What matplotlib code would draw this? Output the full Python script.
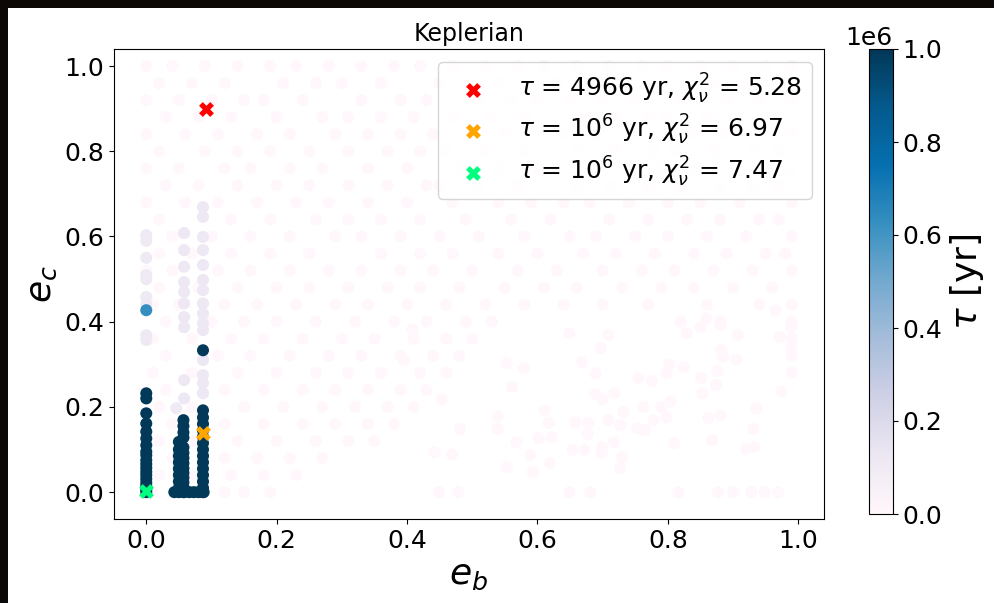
"""Lifetime map of the (e_b, e_c) plane, Keplerian fit."""

import matplotlib

matplotlib.use("Agg")
import matplotlib.pyplot as plt
import numpy as np
from matplotlib.patches import Rectangle

# --- stable / long-lived solutions (tau in yr) -----------------------------
col1_ec = [0.232, 0.220, 0.185, 0.161, 0.142, 0.126, 0.110, 0.095, 0.087, 0.075,
           0.066, 0.057, 0.048, 0.040, 0.031, 0.022, 0.014, 0.006, 0.000]
col2_ec = [0.169, 0.155, 0.140, 0.128, 0.105, 0.092, 0.080, 0.068, 0.056, 0.045,
           0.034, 0.023, 0.012, 0.000]
col2b_ec = [0.118, 0.100, 0.085, 0.070, 0.055, 0.040, 0.025, 0.010]
col3_ec = [0.333, 0.192, 0.175, 0.160, 0.145, 0.130, 0.115, 0.100, 0.085, 0.070,
           0.055, 0.040, 0.025, 0.010, 0.000]
floor_eb = [0.043, 0.050, 0.058, 0.066, 0.073, 0.080, 0.088]

# weakly stable (short tau) points in the same columns
lav1_ec = [0.603, 0.590, 0.550, 0.509, 0.500, 0.458, 0.440, 0.368, 0.357]
lav2_ec = [0.608, 0.568, 0.529, 0.493, 0.470, 0.443, 0.411, 0.387, 0.263, 0.220]
lav3_ec = [0.669, 0.646, 0.599, 0.568, 0.533, 0.498, 0.474, 0.443, 0.419, 0.397,
           0.380, 0.310, 0.275, 0.256, 0.232]

# single intermediate point
mid_eb, mid_ec, mid_tau = 0.0, 0.427, 6.3e5

# --- background: unstable solutions (tau ~ 0) ------------------------------
bg_rows = [
    (1.00, [0.00, 0.04, 0.09, 0.14, 0.19, 0.23, 0.28, 0.33, 0.38, 0.42, 0.47, 0.52,
            0.57, 0.61, 0.66, 0.71, 0.76, 0.80, 0.85, 0.90, 0.95, 0.99]),
    (0.96, [0.02, 0.07, 0.12, 0.21, 0.26, 0.30, 0.36, 0.45, 0.49, 0.54, 0.63, 0.68,
            0.73, 0.78, 0.87, 0.92, 0.97]),
    (0.92, [0.00, 0.05, 0.10, 0.15, 0.18, 0.24, 0.33, 0.39, 0.43, 0.51, 0.56, 0.60,
            0.65, 0.70, 0.75, 0.82, 0.89, 0.94, 0.99]),
    (0.88, [0.03, 0.08, 0.13, 0.20, 0.27, 0.31, 0.36, 0.41, 0.47, 0.53, 0.58, 0.67,
            0.72, 0.77, 0.80, 0.86, 0.91, 0.96]),
    (0.84, [0.00, 0.06, 0.11, 0.17, 0.22, 0.29, 0.34, 0.39, 0.44, 0.50, 0.55, 0.61,
            0.64, 0.69, 0.75, 0.84, 0.89, 0.99]),
    (0.80, [0.02, 0.09, 0.14, 0.19, 0.25, 0.31, 0.37, 0.42, 0.46, 0.52, 0.58, 0.66,
            0.72, 0.78, 0.81, 0.87, 0.93, 0.97]),
    (0.76, [0.00, 0.05, 0.12, 0.16, 0.22, 0.27, 0.34, 0.40, 0.48, 0.54, 0.60, 0.63,
            0.69, 0.74, 0.79, 0.84, 0.90, 0.95, 0.99]),
    (0.72, [0.03, 0.08, 0.14, 0.20, 0.25, 0.31, 0.37, 0.43, 0.45, 0.51, 0.57, 0.66,
            0.71, 0.77, 0.82, 0.88, 0.93, 0.97]),
    (0.68, [0.00, 0.06, 0.11, 0.17, 0.23, 0.28, 0.34, 0.40, 0.47, 0.54, 0.59, 0.64,
            0.68, 0.74, 0.80, 0.85, 0.91, 0.99]),
    (0.64, [0.02, 0.13, 0.19, 0.26, 0.31, 0.36, 0.42, 0.49, 0.56, 0.62, 0.71, 0.77,
            0.83, 0.88, 0.94, 0.97]),
    (0.60, [0.00, 0.04, 0.10, 0.16, 0.22, 0.29, 0.33, 0.39, 0.45, 0.51, 0.58, 0.65,
            0.69, 0.75, 0.80, 0.86, 0.92, 0.99]),
    (0.56, [0.02, 0.07, 0.13, 0.19, 0.25, 0.36, 0.42, 0.47, 0.54, 0.60, 0.67, 0.72,
            0.78, 0.84, 0.89, 0.95, 0.98]),
    (0.52, [0.00, 0.04, 0.11, 0.16, 0.22, 0.28, 0.33, 0.39, 0.44, 0.50, 0.57, 0.63,
            0.70, 0.76, 0.81, 0.87, 0.93, 0.99]),
    (0.48, [0.02, 0.08, 0.14, 0.20, 0.25, 0.31, 0.37, 0.42, 0.48, 0.55, 0.61, 0.66,
            0.73, 0.79, 0.84, 0.90, 0.96]),
    (0.44, [0.01, 0.05, 0.12, 0.17, 0.23, 0.29, 0.34, 0.40, 0.46, 0.52, 0.58, 0.64,
            0.70, 0.77, 0.86, 0.94, 0.99]),
    (0.40, [0.03, 0.10, 0.15, 0.20, 0.26, 0.32, 0.38, 0.43, 0.49, 0.53, 0.82, 0.88, 0.99]),
    (0.36, [0.01, 0.07, 0.13, 0.18, 0.24, 0.30, 0.35, 0.41, 0.46, 0.50, 0.99]),
    (0.32, [0.03, 0.11, 0.16, 0.22, 0.28, 0.33, 0.39, 0.44, 0.48, 0.99]),
    (0.28, [0.01, 0.07, 0.14, 0.20, 0.26, 0.31, 0.36, 0.42, 0.46, 0.99]),
    (0.24, [0.03, 0.12, 0.18, 0.24, 0.29, 0.34, 0.39, 0.43]),
    (0.20, [0.02, 0.07, 0.15, 0.21, 0.27, 0.32, 0.37, 0.41]),
    (0.16, [0.04, 0.12, 0.18, 0.24, 0.29, 0.34, 0.38]),
    (0.12, [0.02, 0.07, 0.14, 0.20, 0.26, 0.31, 0.35]),
    (0.08, [0.04, 0.12, 0.17, 0.22, 0.27]),
    (0.04, [0.02, 0.07, 0.13, 0.18, 0.23]),
    (0.00, [0.01, 0.12, 0.15, 0.19]),
]

# scattered unstable points below the dense region
sparse_eb = [0.395, 0.408, 0.453, 0.481, 0.442, 0.469, 0.449, 0.479, 0.539, 0.539,
             0.553, 0.579, 0.561, 0.568, 0.553, 0.593, 0.589, 0.611, 0.617, 0.602,
             0.622, 0.619, 0.649, 0.649, 0.681, 0.668, 0.654, 0.672, 0.658, 0.678,
             0.677, 0.689, 0.697, 0.709, 0.689, 0.700, 0.718, 0.699, 0.699, 0.717,
             0.709, 0.727, 0.732, 0.730, 0.727, 0.755, 0.775, 0.753, 0.762, 0.778,
             0.765, 0.798, 0.802, 0.824, 0.804, 0.790, 0.798, 0.810, 0.816, 0.829,
             0.851, 0.853, 0.862, 0.881, 0.868, 0.874, 0.876, 0.882, 0.885, 0.881,
             0.877, 0.900, 0.907, 0.905, 0.920, 0.933, 0.931, 0.936, 0.974, 0.928,
             0.949, 0.969, 0.965, 0.972, 0.989, 0.989, 0.850, 0.859]
sparse_ec = [0.310, 0.382, 0.218, 0.148, 0.094, 0.089, 0.000, 0.000, 0.178, 0.148,
             0.303, 0.291, 0.247, 0.117, 0.059, 0.047, 0.087, 0.192, 0.162, 0.127,
             0.129, 0.068, 0.373, 0.000, 0.000, 0.305, 0.099, 0.099, 0.164, 0.162,
             0.136, 0.279, 0.338, 0.369, 0.230, 0.218, 0.232, 0.106, 0.092, 0.117,
             0.169, 0.157, 0.188, 0.082, 0.056, 0.268, 0.261, 0.150, 0.200, 0.169,
             0.146, 0.279, 0.300, 0.293, 0.213, 0.200, 0.176, 0.115, 0.000, 0.373,
             0.268, 0.232, 0.174, 0.181, 0.122, 0.251, 0.284, 0.333, 0.317, 0.392,
             0.000, 0.000, 0.369, 0.312, 0.101, 0.106, 0.148, 0.197, 0.237, 0.000,
             0.000, 0.000, 0.427, 0.364, 0.336, 0.387, 0.387, 0.408]

# best fits
best_eb = [0.092, 0.087, 0.000]
best_ec = [0.900, 0.138, 0.002]
best_colors = ["red", "orange", "springgreen"]
best_labels = [r"$\tau$ = 4966 yr, $\chi^2_\nu$ = 5.28",
               r"$\tau$ = $10^6$ yr, $\chi^2_\nu$ = 6.97",
               r"$\tau$ = $10^6$ yr, $\chi^2_\nu$ = 7.47"]


def collect_points():
    """Stack every group into (e_b, e_c, tau) arrays sorted by tau."""
    eb, ec, tau = [], [], []

    def add(xs, ys, t):
        eb.extend(xs)
        ec.extend(ys)
        tau.extend([t] * len(xs))

    for row_ec, row_eb in bg_rows:
        add(row_eb, [row_ec] * len(row_eb), 0.0)
    add(sparse_eb, sparse_ec, 0.0)

    add([0.000] * len(lav1_ec), lav1_ec, 1.1e5)
    add([0.058] * len(lav2_ec), lav2_ec, 1.2e5)
    add([0.046], [0.197], 1.0e5)
    add([0.087] * len(lav3_ec), lav3_ec, 1.2e5)

    add([mid_eb], [mid_ec], mid_tau)

    add([0.000] * len(col1_ec), col1_ec, 1e6)
    add([0.057] * len(col2_ec), col2_ec, 1e6)
    add([0.050] * len(col2b_ec), col2b_ec, 1e6)
    add([0.087] * len(col3_ec), col3_ec, 1e6)
    add(floor_eb, [0.0] * len(floor_eb), 1e6)

    eb, ec, tau = map(np.asarray, (eb, ec, tau))
    order = np.argsort(tau, kind="stable")
    return eb[order], ec[order], tau[order]


def main():
    fig = plt.figure(figsize=(9.94, 6.03), dpi=100)
    fig.patch.set_facecolor("#0b0806")
    fig.add_artist(Rectangle((8 / 994, 0), 1, (603 - 8) / 603, transform=fig.transFigure,
                             facecolor="white", edgecolor="none", zorder=-10))

    ax = fig.add_axes([114 / 994, 1 - 519 / 603, 710 / 994, 470 / 603])
    cax = fig.add_axes([869 / 994, 1 - 514 / 603, 24 / 994, 465 / 603])

    eb, ec, tau = collect_points()
    sc = ax.scatter(eb, ec, c=tau, cmap="PuBu", vmin=0, vmax=1e6, s=75, linewidths=0)

    for x, y, col, lab in zip(best_eb, best_ec, best_colors, best_labels):
        ax.scatter([x], [y], marker="X", color=col, s=115, linewidths=0, label=lab, zorder=3)

    ax.set_xlim(-0.0495, 1.0395)
    ax.set_ylim(-0.063, 1.04)
    ax.set_xlabel(r"$e_b$", fontsize=26)
    ax.set_ylabel(r"$e_c$", fontsize=26)
    ax.set_title("Keplerian", fontsize=17)
    ax.tick_params(labelsize=18)
    ax.legend(loc="upper right", fontsize=18, labelspacing=0.3)

    cb = fig.colorbar(sc, cax=cax)
    cb.set_label(r"$\tau$ [yr]", fontsize=26)
    cb.ax.tick_params(labelsize=18)
    cb.ax.yaxis.get_offset_text().set_fontsize(18)

    fig.savefig("out.png", dpi=100, facecolor=fig.get_facecolor())


if __name__ == "__main__":
    main()
